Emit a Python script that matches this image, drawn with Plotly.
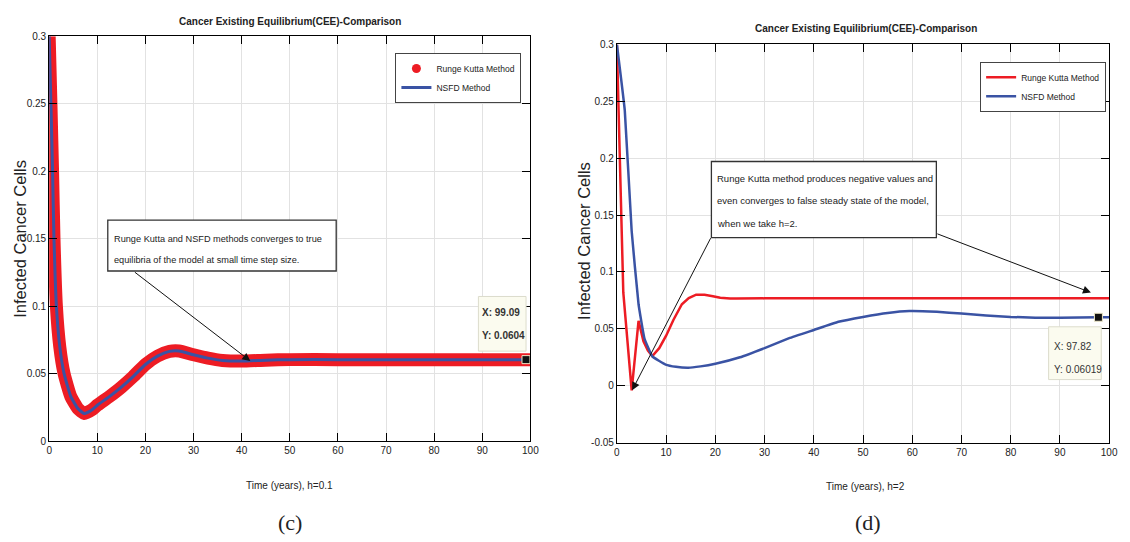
import plotly.graph_objects as go

# ---------------- data ----------------
# Panel (c): h = 0.1 (both methods coincide)
c_time = [0, 0.4, 0.7, 1.0, 1.5, 2.2, 3.1, 4.5, 6.0, 7.3, 9.0, 10, 12.5, 15, 17.5,
          20, 22.5, 25, 27, 30, 33, 36, 40, 45, 50, 60, 80, 100]
c_rk = [0.300, 0.245, 0.200, 0.150, 0.100, 0.070, 0.050, 0.033, 0.024, 0.0205, 0.0235,
        0.0266, 0.033, 0.040, 0.048, 0.0568, 0.063, 0.0665, 0.0668, 0.064, 0.0615,
        0.0598, 0.0593, 0.0600, 0.0604, 0.0604, 0.0604, 0.0604]
c_nsfd = [0.300, 0.245, 0.200, 0.150, 0.100, 0.070, 0.050, 0.033, 0.024, 0.0205, 0.0235,
          0.0266, 0.033, 0.040, 0.048, 0.0568, 0.063, 0.0665, 0.0668, 0.064, 0.0615,
          0.0598, 0.0593, 0.0600, 0.0604, 0.0604, 0.0604, 0.0604]

# Panel (d): h = 2
d_rk_time = [0, 1.3, 3.0, 4.4, 5.4, 6.3, 7.2, 8.6, 10, 11.5, 13.2, 14.6, 16.1, 17.8,
             19.5, 21, 23, 24.3, 30, 100]
d_rk = [0.300, 0.082, -0.004, 0.057, 0.039, 0.031, 0.026, 0.033, 0.044, 0.058, 0.0716,
        0.077, 0.080, 0.080, 0.0787, 0.0774, 0.0767, 0.0766, 0.0768, 0.0768]
d_nsfd_time = [0, 1.6, 3.0, 4.4, 5.6, 7.2, 9.9, 12, 14.5, 17, 20, 25, 30, 35, 40, 45,
               50, 55, 59.4, 65, 70, 75, 80, 85, 90, 97.82, 100]
d_nsfd = [0.300, 0.242, 0.136, 0.0716, 0.0415, 0.0258, 0.0186, 0.0166, 0.0158, 0.0170,
          0.0193, 0.025, 0.0331, 0.0418, 0.049, 0.0562, 0.0605, 0.064, 0.0657, 0.065,
          0.0634, 0.0618, 0.0605, 0.0598, 0.0597, 0.06019, 0.0602]

c_tip = (99.09, 0.0604)
d_tip = (97.82, 0.06019)

c_yticks = [0, 0.05, 0.1, 0.15, 0.2, 0.25, 0.3]
c_yticklabels = ["0", "0.05", "0.1", "0.15", "0.2", "0.25", "0.3"]
d_yticks = [-0.05, 0, 0.05, 0.1, 0.15, 0.2, 0.25, 0.3]
d_yticklabels = ["-0.05", "0", "0.05", "0.1", "0.15", "0.2", "0.25", "0.3"]
xticks = [0, 10, 20, 30, 40, 50, 60, 70, 80, 90, 100]
xticklabels = [str(v) for v in xticks]

RED = "#ED1C24"
BLUE = "#3A53A4"
SANS = "Liberation Sans, Arial, sans-serif"
SERIF = "Liberation Serif, Times New Roman, serif"

fig = go.Figure()

# ---- panel (c) ----
fig.add_trace(go.Scatter(x=c_time, y=c_rk, mode="lines", line=dict(color=RED, width=13, shape="spline", smoothing=0.5),
                         xaxis="x", yaxis="y", showlegend=False, hoverinfo="skip"))
fig.add_trace(go.Scatter(x=[None], y=[None], mode="markers", name="Runge Kutta Method",
                         marker=dict(color=RED, size=9, symbol="circle"), xaxis="x", yaxis="y", legend="legend"))
fig.add_trace(go.Scatter(x=c_time, y=c_nsfd, mode="lines", name="NSFD Method",
                         line=dict(color=BLUE, width=3, shape="spline", smoothing=0.5),
                         xaxis="x", yaxis="y", legend="legend"))
fig.add_trace(go.Scatter(x=[c_tip[0]], y=[c_tip[1]], mode="markers", showlegend=False,
                         marker=dict(symbol="square", size=8, color="#111", line=dict(color="#eee8c8", width=1)),
                         xaxis="x", yaxis="y"))

# ---- panel (d) ----
fig.add_trace(go.Scatter(x=d_rk_time, y=d_rk, mode="lines", name="Runge Kutta Method",
                         line=dict(color=RED, width=2.5), xaxis="x2", yaxis="y2", legend="legend2"))
fig.add_trace(go.Scatter(x=d_nsfd_time, y=d_nsfd, mode="lines", name="NSFD Method",
                         line=dict(color=BLUE, width=2.5, shape="spline", smoothing=0.3),
                         xaxis="x2", yaxis="y2", legend="legend2"))
fig.add_trace(go.Scatter(x=[d_tip[0]], y=[d_tip[1]], mode="markers", showlegend=False,
                         marker=dict(symbol="square", size=8, color="#111", line=dict(color="#eee8c8", width=1)),
                         xaxis="x2", yaxis="y2"))

axis_common = dict(showline=True, linecolor="black", linewidth=1, mirror="ticks", ticks="inside",
                   ticklen=8, tickcolor="black", showgrid=True, gridcolor="#e2e2e2", zeroline=False,
                   tickfont=dict(family=SANS, size=10, color="#222"))

fig.update_layout(
    width=1130, height=542, margin=dict(l=0, r=0, t=0, b=0),
    paper_bgcolor="white", plot_bgcolor="white",
    xaxis=dict(domain=[0.0413, 0.4717], range=[0, 100], tickvals=xticks, ticktext=xticklabels,
               anchor="y", **axis_common),
    yaxis=dict(domain=[0.179, 0.9428], range=[0, 0.3], tickvals=c_yticks, ticktext=c_yticklabels,
               anchor="x", **axis_common),
    xaxis2=dict(domain=[0.5491, 0.9894], range=[0, 100], tickvals=xticks, ticktext=xticklabels,
                anchor="y2", **axis_common),
    yaxis2=dict(domain=[0.1762, 0.9275], range=[-0.05, 0.3], tickvals=d_yticks, ticktext=d_yticklabels,
                anchor="x2", **axis_common),
    legend=dict(x=0.4637, y=0.9114, xanchor="right", yanchor="top", bgcolor="white",
                bordercolor="#444", borderwidth=1, font=dict(family=SANS, size=8.5, color="#222"),
                tracegroupgap=0, itemwidth=30),
    legend2=dict(x=0.9867, y=0.8948, xanchor="right", yanchor="top", bgcolor="white",
                 bordercolor="#444", borderwidth=1, font=dict(family=SANS, size=8.5, color="#222"),
                 tracegroupgap=0, itemwidth=30),
    showlegend=True,
)

shapes = []
annotations = []

# annotation box (c)
shapes.append(dict(type="rect", xref="x", yref="y", x0=12.18, x1=59.65, y0=0.1261, y1=0.1638,
                   line=dict(color="#333", width=1.3), fillcolor="white", layer="above"))
annotations.append(dict(xref="x", yref="y", x=13.0, y=0.1498, xanchor="left", yanchor="middle",
                        text="Runge Kutta and NSFD methods converges to true", showarrow=False,
                        font=dict(family=SANS, size=9.2, color="#222")))
annotations.append(dict(xref="x", yref="y", x=13.0, y=0.1341, xanchor="left", yanchor="middle",
                        text="equilibria of the model at small time step size.", showarrow=False,
                        font=dict(family=SANS, size=9.2, color="#222")))
annotations.append(dict(xref="x", yref="y", x=41.8, y=0.0594, axref="x", ayref="y", ax=17.5, ay=0.126,
                        text="", showarrow=True, arrowhead=2, arrowsize=1.6, arrowwidth=1, arrowcolor="#111"))

# data tip (c)
shapes.append(dict(type="rect", xref="x", yref="y", x0=89.2, x1=99.1, y0=0.0667, y1=0.1072,
                   line=dict(color="#dcdccc", width=1), fillcolor="#FBFBEF", layer="above"))
annotations.append(dict(xref="x", yref="y", x=89.5, y=0.0954, xanchor="left", yanchor="middle",
                        text="<b>X: 99.09</b>", showarrow=False, font=dict(family=SANS, size=10, color="#333")))
annotations.append(dict(xref="x", yref="y", x=89.5, y=0.0780, xanchor="left", yanchor="middle",
                        text="<b>Y: 0.0604</b>", showarrow=False, font=dict(family=SANS, size=10, color="#333")))

# annotation box (d)
shapes.append(dict(type="rect", xref="x2", yref="y2", x0=19.2, x1=64.9, y0=0.1301, y1=0.1971,
                   line=dict(color="#333", width=1.3), fillcolor="white", layer="above"))
for txt, yy in [("Runge Kutta method produces negative values and", 0.1819),
                ("even converges to false steady state of the model,", 0.1625),
                ("when we take h=2.", 0.1424)]:
    annotations.append(dict(xref="x2", yref="y2", x=20.0, y=yy, xanchor="left", yanchor="middle",
                            text=txt, showarrow=False, font=dict(family=SANS, size=9.5, color="#222")))
annotations.append(dict(xref="x2", yref="y2", x=3.1, y=-0.004, axref="x2", ayref="y2", ax=19.2, ay=0.131,
                        text="", showarrow=True, arrowhead=2, arrowsize=1.6, arrowwidth=1, arrowcolor="#111"))
annotations.append(dict(xref="x2", yref="y2", x=96.3, y=0.0819, axref="x2", ayref="y2", ax=64.8, ay=0.134,
                        text="", showarrow=True, arrowhead=2, arrowsize=1.6, arrowwidth=1, arrowcolor="#111"))

# data tip (d)
shapes.append(dict(type="rect", xref="x2", yref="y2", x0=87.7, x1=98.4, y0=0.0054, y1=0.0518,
                   line=dict(color="#dcdccc", width=1), fillcolor="#FBFBEF", layer="above"))
annotations.append(dict(xref="x2", yref="y2", x=88.3, y=0.0346, xanchor="left", yanchor="middle",
                        text="X: 97.82", showarrow=False, font=dict(family=SANS, size=10, color="#333")))
annotations.append(dict(xref="x2", yref="y2", x=88.3, y=0.0143, xanchor="left", yanchor="middle",
                        text="Y: 0.06019", showarrow=False, font=dict(family=SANS, size=10, color="#333")))

# titles, axis titles, captions
for x, y, t in [(0.2565, 0.971, "Cancer Existing Equilibrium(CEE)-Comparison"),
                (0.7721, 0.958, "Cancer Existing Equilibrium(CEE)-Comparison")]:
    annotations.append(dict(xref="paper", yref="paper", x=x, y=y, xanchor="center", yanchor="middle",
                            text="<b>" + t + "</b>", showarrow=False, font=dict(family=SANS, size=10, color="#222")))
for x, y, t in [(0.2561, 0.0959, "Time (years), h=0.1"), (0.7717, 0.0928, "Time (years), h=2")]:
    annotations.append(dict(xref="paper", yref="paper", x=x, y=y, xanchor="center", yanchor="middle",
                            text=t, showarrow=False, font=dict(family=SANS, size=10, color="#222")))
for x, y in [(0.0153, 0.561), (0.5198, 0.557)]:
    annotations.append(dict(xref="paper", yref="paper", x=x, y=y, xanchor="center", yanchor="middle",
                            text="Infected Cancer Cells", textangle=-90, showarrow=False,
                            font=dict(family=SANS, size=16.5, color="#222")))
for x, y, t in [(0.2563, 0.0264, "(c)"), (0.7735, 0.0264, "(d)")]:
    annotations.append(dict(xref="paper", yref="paper", x=x, y=y, xanchor="center", yanchor="middle",
                            text=t, showarrow=False, font=dict(family=SERIF, size=22, color="#222")))

fig.update_layout(shapes=shapes, annotations=annotations)
fig.write_html("out.html", config={"displayModeBar": False})

# remove the default page margin so the figure sits at the window origin
with open("out.html", "r", encoding="utf-8") as f:
    html = f.read()
html = html.replace("<head>", "<head><style>html,body{margin:0;padding:0;overflow:hidden;}</style>", 1)
with open("out.html", "w", encoding="utf-8") as f:
    f.write(html)
